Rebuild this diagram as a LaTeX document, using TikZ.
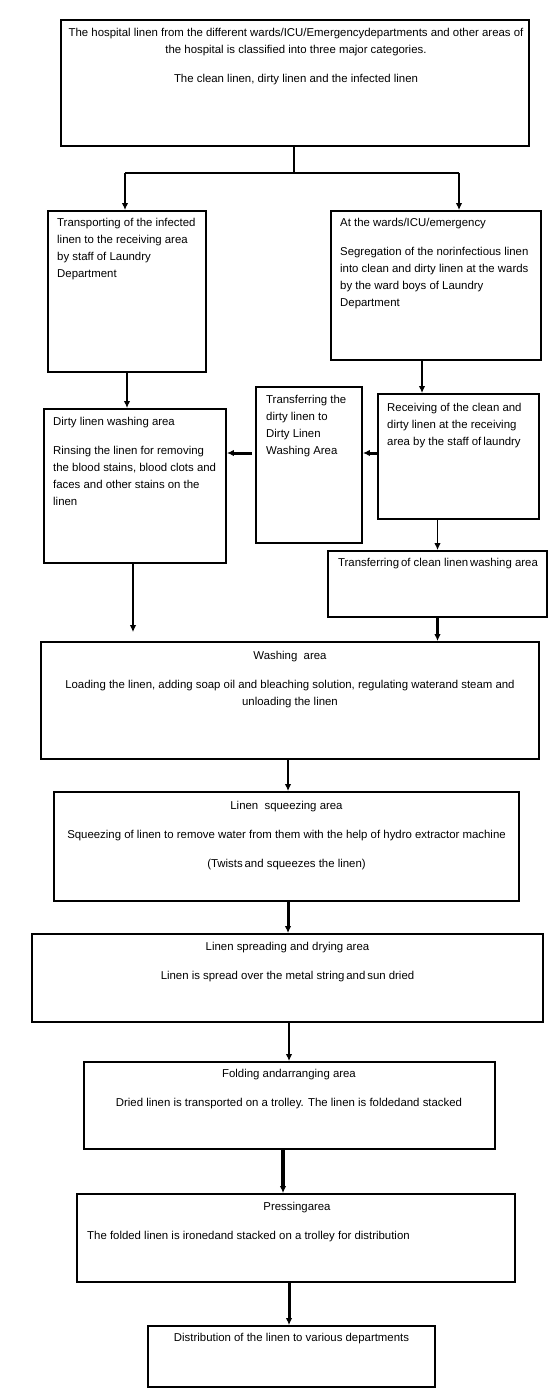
\documentclass[tikz,border=0pt]{standalone}
\usepackage{fontspec}
\setmainfont{Liberation Sans}
\usetikzlibrary{arrows.meta}

\begin{document}
\begin{tikzpicture}[x=1pt, y=-1pt,
    box/.style={draw, line width=1.8pt, inner sep=0pt},
    txt/.style={inner sep=0pt, font=\fontsize{11.4}{17}\selectfont},
    arr/.style={-{Latex[length=7pt, width=6.5pt]}, line width=1.5pt}
  ]
  \useasboundingbox (0,0) rectangle (556,1388);
  % boxes
  \node[box, minimum width=468pt, minimum height=126pt] (top)   at (295,83)     {};
  \node[box, minimum width=158pt, minimum height=161pt] (inf)   at (127,291.5)  {};
  \node[box, minimum width=210pt, minimum height=149pt] (ward)  at (436,285.5)  {};
  \node[box, minimum width=182pt, minimum height=154pt] (dw)    at (135,486)    {};
  \node[box, minimum width=106pt, minimum height=156pt] (mid)   at (309,465)    {};
  \node[box, minimum width=161pt, minimum height=125pt] (rcv)   at (458.5,456.5){};
  \node[box, minimum width=219pt, minimum height=66pt]  (clean) at (437.5,584)  {};
  \node[box, minimum width=498pt, minimum height=117pt] (wash)  at (290,700.5)  {};
  \node[box, minimum width=465pt, minimum height=109pt] (sq)    at (286.5,846.5){};
  \node[box, minimum width=511pt, minimum height=88pt]  (spread) at (287.5,978) {};
  \node[box, minimum width=411pt, minimum height=87pt]  (fold)  at (289.5,1105.5){};
  \node[box, minimum width=438pt, minimum height=88pt]  (press) at (296,1238)   {};
  \node[box, minimum width=287pt, minimum height=61pt]  (dist)  at (291.5,1356.5){};
  % texts
  \node[txt, anchor=north, align=center] (top-t) at (296,28.5)
    {The hospital linen from the different wards/ICU/Emergencydepartments and other areas of\\
     the hospital is classified into three major categories.\\[12pt]
     The clean linen, dirty linen and the infected linen};
  \node[txt, anchor=north west, align=left] (inf-t) at (57,218.5)
    {Transporting of the infected\\linen to the receiving area\\by staff of Laundry\\Department};
  \node[txt, anchor=north west, align=left] (ward-t) at (340,218.5)
    {At the wards/ICU/emergency\\[12pt]
     Segregation of the norinfectious linen\\into clean and dirty linen at the wards\\by the ward boys of Laundry\\Department};
  \node[txt, anchor=north west, align=left] (dw-t) at (53,417.5)
    {Dirty linen washing area\\[12pt]
     Rinsing the linen for removing\\the blood stains, blood clots and\\faces and other stains on the\\linen};
  \node[txt, anchor=north west, align=left] (mid-t) at (266,395.5)
    {Transferring the\\dirty linen to\\Dirty Linen\\Washing Area};
  \node[txt, anchor=north west, align=left] (rcv-t) at (387,403.5)
    {Receiving of the clean and\\dirty linen at the receiving\\area by the staff of\,laundry};
  \node[txt, anchor=north] (clean-t) at (438,558.5)
    {Transferring\,of clean linen\,washing area};
  \node[txt, anchor=north, align=center] (wash-t) at (290,651.5)
    {Washing\ \ area\\[12pt]
     Loading the linen, adding soap oil and bleaching solution, regulating waterand steam and\\
     unloading the linen};
  \node[txt, anchor=north, align=center] (sq-t) at (286.5,801.5)
    {Linen\ \ squeezing area\\[12pt]
     Squeezing of linen to remove water from them with the help of hydro extractor machine\\[12pt]
     (Twists\,and squeezes the linen)};
  \node[txt, anchor=north, align=center] (spread-t) at (287.5,942.5)
    {Linen spreading and drying area\\[12pt]
     Linen is spread over the metal string\,and\,sun dried};
  \node[txt, anchor=north, align=center] (fold-t) at (289,1069.5)
    {Folding andarranging area\\[12pt]
     Dried linen is transported on a trolley. The linen is foldedand stacked};
  \node[txt, anchor=north] (press-h) at (297,1202.5) {Pressingarea};
  \node[txt, anchor=north west] (press-t) at (87,1231.5)
    {The folded linen is ironedand stacked on a trolley for distribution};
  \node[txt, anchor=north] (dist-t) at (291.5,1333.5)
    {Distribution of the linen to various departments};
  % connectors
  \coordinate (split) at (294,173);
  \coordinate (jl) at (125,173);
  \coordinate (jr) at (459,173);
  \draw[line width=1.2pt] (top.south -| split) -- (split);
  \draw[line width=1.2pt] (jl) -- (jr);
  \draw[arr] (jl) -- (jl |- inf.north);
  \draw[arr] (jr) -- (jr |- ward.north);
  \draw[arr, line width=1.8pt] (inf.south) -- (inf.south |- dw.north);
  \draw[arr, line width=1.8pt] ([xshift=-14pt]ward.south) -- ([xshift=-14pt]ward.south |- rcv.north);
  \draw[arr, line width=3pt] ([yshift=3.5pt]rcv.west) -- ([yshift=3.5pt]rcv.west -| mid.east);
  \draw[arr, line width=3pt] ([xshift=-3pt, yshift=12pt]mid.west) -- ([yshift=12pt]mid.west -| dw.east);
  \draw[arr, line width=1.8pt] (clean.north |- rcv.south) -- (clean.north);
  \draw[arr, line width=1.2pt, shorten >=9pt] ([xshift=-2pt]dw.south) -- ([xshift=-2pt]dw.south |- wash.north);
  \draw[arr, line width=3pt] (clean.south) -- (clean.south |- wash.north);
  \foreach \a/\b/\w/\dx in {wash/sq/2/-2, sq/spread/3/1.5, spread/fold/1.5/1.5,
                            fold/press/4/-6.5, press/dist/3/-7}
    \draw[arr, line width=\w pt] ([xshift=\dx pt]\a.south) -- ([xshift=\dx pt]\a.south |- \b.north);
\end{tikzpicture}
\end{document}
